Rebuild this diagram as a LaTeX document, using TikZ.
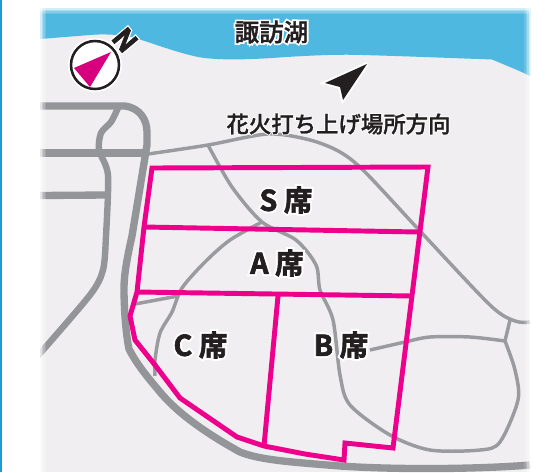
\documentclass[tikz,border=0pt]{standalone}
\usepackage{fontspec}
\setmainfont{Noto Sans CJK JP}
\newfontfamily\jpbold{Noto Sans CJK JP Bold}
\newfontfamily\jpmed{Noto Sans CJK JP Medium}
\definecolor{land}{HTML}{F0EEF0}
\definecolor{lake}{HTML}{4FB8E0}
\definecolor{road}{HTML}{949598}
\definecolor{thinroad}{HTML}{9A9B9E}
\definecolor{seat}{HTML}{EC008C}
\definecolor{needle}{HTML}{D6007F}
\definecolor{ink}{HTML}{231F20}
\definecolor{frameblue}{HTML}{1E9BD7}
\newcommand{\halotext}[3]{\leavevmode\rlap{\special{pdf:code q 2 Tr #1 w 1 1 1 RG 1 1 1 rg}\textcolor{white}{#3}\special{pdf:code 0 Tr Q}}\special{pdf:code q 2 Tr #2 w 0.137 0.122 0.125 RG}\textcolor{ink}{#3}\special{pdf:code 0 Tr Q}}
\tikzset{
  bigroad/.style={draw=road,line width=4.8pt,line join=round,line cap=butt},
  minorroad/.style={draw=thinroad,line width=2.6pt,line join=round},
  seatline/.style={draw=seat,line width=3.7pt,line join=miter},
  seatlabel/.style={inner sep=0pt,font=\jpbold\fontsize{21.5}{22}\selectfont},
  lakelabel/.style={inner sep=0pt,font=\jpmed\fontsize{18.4}{19}\selectfont},
  dirlabel/.style={inner sep=0pt,font=\jpmed\fontsize{16.8}{17}\selectfont},
}
\begin{document}
\begin{tikzpicture}[x=0.75pt,y=-0.75pt]
\useasboundingbox (0,0) rectangle (545,472);
\fill[white] (0,0) rectangle (545,472);
\fill[frameblue] (0,0) rectangle (2.3,472);
\fill[land] (40,8) rectangle (530,472);
% lake
\fill[lake] (40,8) -- (530,8) -- (530,76)
  .. controls (520,71) and (510,67) .. (492,59.5)
  .. controls (450,58) and (400,56) .. (362,55)
  .. controls (335,54) and (300,56) .. (272,58)
  .. controls (240,60) and (215,60) .. (198,57)
  .. controls (175,52) and (155,44) .. (135,38)
  .. controls (120,34) and (100,34) .. (90,35)
  -- (40,39) -- cycle;
\begin{scope}
\clip (40,8) rectangle (530,472);
% minor roads
\draw[minorroad] plot[smooth,tension=0.5] coordinates {(148,154) (208,145) (268,134) (310,140) (340,152) (365,172) (420,231) (490,305) (515,321) (530,322)};
\draw[minorroad] plot[smooth,tension=0.5] coordinates {(208,145) (232,187) (262,222) (296,240) (316,265) (320,290) (333,320) (340,375) (350,405) (390,435) (430,450) (480,450) (500,442) (518,400) (515,370) (505,341)};
\draw[minorroad] plot[smooth,tension=0.5] coordinates {(262,222) (230,240) (205,262) (182,288) (172,312) (160,333) (155,360) (155,376)};
\draw[minorroad] (135,304) -- (178,296);
\draw[minorroad] (510,320) -- (505,341);
\draw[minorroad] plot[smooth,tension=0.5] coordinates {(505,341) (470,337) (430,337) (405,342) (370,350)};
% major roads
\draw[bigroad,line width=5.5pt] (40,153) -- (147,153);
\draw[bigroad,line width=5.5pt] (40,195.5) -- (106,195);
\draw[bigroad] plot[smooth,tension=0.45] coordinates {(118,108) (111,122) (101,133) (99,150) (108,175) (106,236) (103,270) (90,295) (36,358)};
\draw[bigroad,line width=5.5pt] (40,106) -- (125,106) .. controls (140,108) and (147,120) .. (147,132) -- (147,145) -- (132,236)
  .. controls (127,258) and (124,275) .. (124,288) .. controls (124,310) and (126,335) .. (129,349)
  .. controls (137,365) and (150,380) .. (160,392)
  .. controls (175,410) and (200,430) .. (240,452)
  .. controls (260,460) and (290,462) .. (340,466)
  .. controls (400,470) and (480,469) .. (530,465);
\end{scope}
% seat blocks
\draw[seatline] (152,168) -- (428,167) -- (393,448) -- (345,443) -- (344,460) -- (305,454) -- (264,446) -- (237,437) -- (180,398) -- (155,365) -- (135,340) -- (130,316) -- (137,292) -- (144,227) -- cycle;
\draw[seatline] (144,227) -- (418,232);
\draw[seatline] (137,292) -- (412,296);
\draw[seatline] (278,296) -- (264,446);
% edge softening of the panel
\foreach \i/\o in {0/0.75,1/0.5,2/0.3,3/0.15}{
  \fill[white,opacity=\o] (40,{8+\i*1.5}) rectangle (530,{9.5+\i*1.5});
  \fill[white,opacity=\o] ({40+\i*1.5},8) rectangle ({41.5+\i*1.5},472);
  \fill[white,opacity=\o] ({528.5-\i*1.5},8) rectangle ({530-\i*1.5},472);
}
% compass
\fill[white] (95,65) circle (27);
\draw[ink,line width=1.9pt,fill=white] (95,65) circle (24);
\fill[needle] (111,52) -- (74,68) -- (90,87) -- cycle;
\node[inner sep=0pt,rotate=-50] (north) at (125,40) {\fontsize{21}{21}\selectfont\jpbold\halotext{2.4}{0.5}{N}};
% direction arrow
\draw[white,line width=3pt,line join=miter,miter limit=3] (367,64) -- (325,83) -- (340,87) -- (343,100) -- cycle;
\fill[ink] (367,64) -- (325,83) -- (340,87) -- (343,100) -- cycle;
% labels
\node[lakelabel] (lakename) at (271.5,32) {\halotext{2.8}{0.25}{諏訪湖}};
\node[dirlabel] (fireworks) at (338.5,124) {\halotext{1.6}{0.2}{花火打ち上げ場所方向}};
\node[seatlabel] (sseat) at (286,200) {\halotext{3.4}{0.5}{S 席}};
\node[seatlabel] (aseat) at (277,263) {\halotext{3.4}{0.5}{A 席}};
\node[seatlabel] (cseat) at (200.5,345) {\halotext{3.4}{0.5}{C 席}};
\node[seatlabel] (bseat) at (341,345) {\halotext{3.4}{0.5}{B 席}};
\end{tikzpicture}
\end{document}
